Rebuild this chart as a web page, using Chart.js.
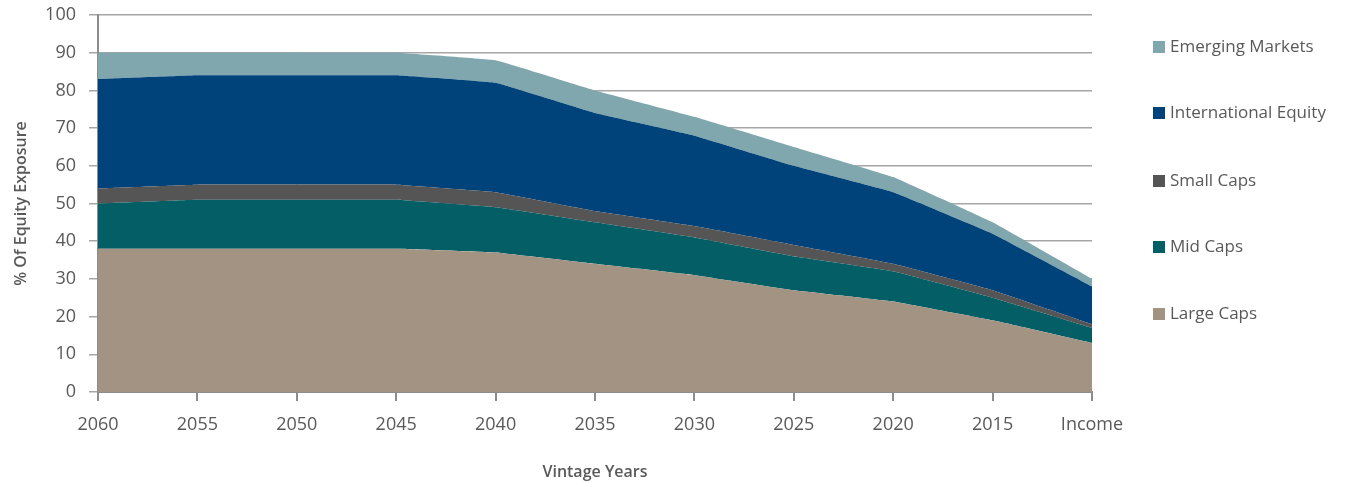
<!DOCTYPE html>
<html>
<head>
<meta charset="utf-8">
<script src="https://cdn.jsdelivr.net/npm/chart.js@4.4.0/dist/chart.umd.min.js"></script>
<style>
    html, body { margin: 0; padding: 0; background: #fff; }
    #wrap { position: relative; width: 1346px; height: 484px; }
    #legend { position: absolute; left: 1153px; top: 0; font-family: 'Open Sans', sans-serif; font-size: 17px; color: #595959; }
    #legend div { position: absolute; white-space: nowrap; line-height: 20px; }
    #legend span { display: inline-block; width: 12px; height: 12px; margin-right: 5px; vertical-align: -1px; }
</style>
</head>
<body>
<div id="wrap">
    <canvas id="myChart"></canvas>
    <div id="legend"></div>
</div>
<script>
const labels = ['2060', '2055', '2050', '2045', '2040', '2035', '2030', '2025', '2020', '2015', 'Income'];
const largeCaps = [38, 38, 38, 38, 37, 34, 31, 27, 24, 19, 13];
const midCaps = [12, 13, 13, 13, 12, 11, 10, 9, 8, 6, 4];
const smallCaps = [4, 4, 4, 4, 4, 3, 3, 3, 2, 2, 1];
const intlEquity = [29, 29, 29, 29, 29, 26, 24, 21, 19, 15, 10];
const emergingMarkets = [7, 6, 6, 6, 6, 6, 5, 5, 4, 3, 2];

const seriesNames = ['Large Caps', 'Mid Caps', 'Small Caps', 'International Equity', 'Emerging Markets'];
const seriesValues = [largeCaps, midCaps, smallCaps, intlEquity, emergingMarkets];
const seriesColors = ['#a29383', '#035e66', '#555555', '#00427a', '#7fa7ad'];

document.addEventListener('DOMContentLoaded', function() {
    mychart();
    mylegend();
});

function mychart() {
    const ctx = document.getElementById('myChart');
    ctx.width = 1346;
    ctx.height = 484;
    const datasets = seriesNames.map(function(name, i) {
        return {
            label: name,
            data: seriesValues[i],
            backgroundColor: seriesColors[i],
            borderWidth: 0,
            pointRadius: 0,
            tension: 0.06,
            fill: i === 0 ? 'origin' : '-1'
        };
    });
    new Chart(ctx, {
        type: 'line',
        data: { labels: labels, datasets: datasets },
        options: {
            responsive: false,
            animation: false,
            layout: { padding: { top: 15, right: 254, left: 0, bottom: 0 } },
            plugins: {
                legend: { display: false },
                tooltip: { enabled: false }
            },
            scales: {
                x: {
                    offset: false,
                    grid: { drawOnChartArea: false, drawTicks: true, tickLength: 9, color: '#8c8c8c', lineWidth: 2 },
                    border: { display: true, color: '#8c8c8c', width: 2 },
                    ticks: { color: '#595959', font: { family: 'Open Sans', size: 18 }, maxRotation: 0, padding: 13 },
                    title: { display: true, text: 'Vintage Years', color: '#595959', font: { family: 'Open Sans', size: 16, weight: '600' }, padding: { top: 22, bottom: 2 } },
                    afterFit: function(s) { s.height = 92; s.paddingTop = 0; }
                },
                y: {
                    stacked: true,
                    min: 0,
                    max: 100,
                    ticks: { stepSize: 10, color: '#595959', font: { family: 'Open Sans', size: 18 }, padding: 13 },
                    grid: { color: '#a6a6a6', lineWidth: 1.5, drawTicks: true, tickLength: 9 },
                    border: { display: true, color: '#8c8c8c', width: 2 },
                    title: { display: true, text: '% Of Equity Exposure', color: '#595959', font: { family: 'Open Sans', size: 16, weight: '600' }, padding: { top: 12, bottom: 8 } },
                    afterFit: function(s) { s.width = 98; s.paddingTop = 0; s.paddingBottom = 0; }
                }
            }
        }
    });
}

function mylegend() {
    const box = document.getElementById('legend');
    const tops = [36, 102, 170, 236, 303];
    for (let k = 0; k < seriesNames.length; k++) {
        const i = seriesNames.length - 1 - k;
        const item = document.createElement('div');
        item.style.top = tops[k] + 'px';
        item.innerHTML = '<span style="background:' + seriesColors[i] + '"></span>' + seriesNames[i];
        box.appendChild(item);
    }
}
</script>
</body>
</html>
